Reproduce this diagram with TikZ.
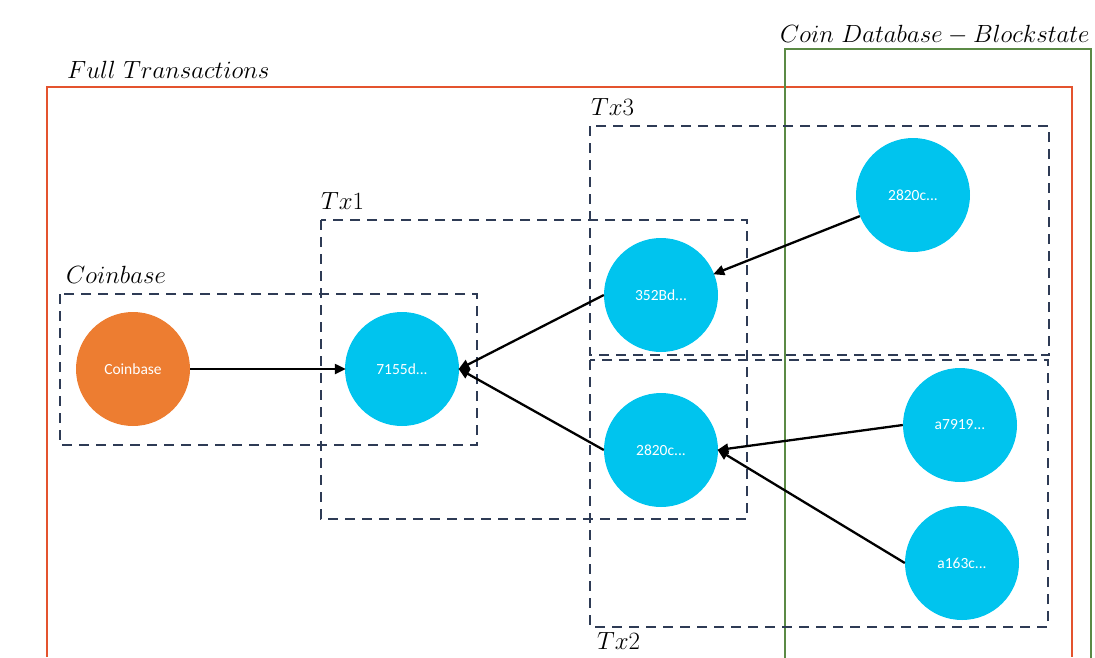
\documentclass[tikz,border=0pt]{standalone}
\usepackage{fontspec}
\newfontfamily\nodefont{Carlito}
\usetikzlibrary{arrows.meta}
\definecolor{coinorange}{HTML}{ED7D31}
\definecolor{txcyan}{HTML}{00C4EE}
\definecolor{fullred}{HTML}{E4532E}
\definecolor{dbgreen}{HTML}{5B8A45}
\definecolor{txnavy}{HTML}{2E3B55}
\tikzset{
  coin/.style={circle, minimum size=114pt, inner sep=0pt, fill=txcyan, draw=none,
    text=white, font=\nodefont\fontsize{15.5}{18}\selectfont},
  txbox/.style={draw=txnavy, line width=2.6pt, dash pattern=on 10pt off 7pt},
  boxlabel/.style={font=\fontsize{24.88}{30}\selectfont, anchor=base west, inner sep=0pt},
  link/.style={-{Triangle[length=11pt,width=10pt]}, line width=2.3pt, black, shorten >=-1pt},
}
\begin{document}
\begin{tikzpicture}[x=1pt,y=-1pt]
\useasboundingbox (0,0) rectangle (1095,657);
% outer frames
\draw[fullred, line width=2.4pt] (47,657) -- (47,87) -- (1072,87) -- (1072,657);
\draw[dbgreen, line width=2.4pt] (785,660) -- (785,49) -- (1091,49) -- (1091,660);
\node[boxlabel] (lfull) at (67,78) {$Full\ Transactions$};
\node[boxlabel] (ldb) at (780,42) {$Coin\ Database - Blockstate$};
% transaction groups
\draw[txbox] (60,294) rectangle (477,445);
\draw[txbox] (321,220) rectangle (747,519);
\draw[txbox] (590,126) rectangle (1049,355);
\draw[txbox] (590,360) rectangle (1048,627);
\node[boxlabel] (lcb) at (66,283) {$Coinbase$};
\node[boxlabel] (ltx1) at (321,209) {$Tx1$};
\node[boxlabel] (ltx3) at (591,115) {$Tx3$};
\node[boxlabel] (ltx2) at (597,649) {$Tx2$};
% coins
\node[coin, fill=coinorange] (cb) at (133,369) {Coinbase};
\node[coin] (c7155) at (402,369) {7155d...};
\node[coin] (c352) at (661,295) {352Bd...};
\node[coin] (c2820m) at (661,450) {2820c...};
\node[coin] (c2820t) at (913,195) {2820c...};
\node[coin] (ca791) at (960,425) {a7919...};
\node[coin] (ca163) at (962,563) {a163c...};
% spends
\draw[link] (cb) -- (c7155);
\draw[link] (c352.west) -- (c7155.east);
\draw[link] (c2820m.west) -- (c7155.east);
\draw[link] (c2820t) -- (c352);
\draw[link] (ca791.west) -- (c2820m.east);
\draw[link] (ca163.west) -- (c2820m.east);
\end{tikzpicture}
\end{document}
